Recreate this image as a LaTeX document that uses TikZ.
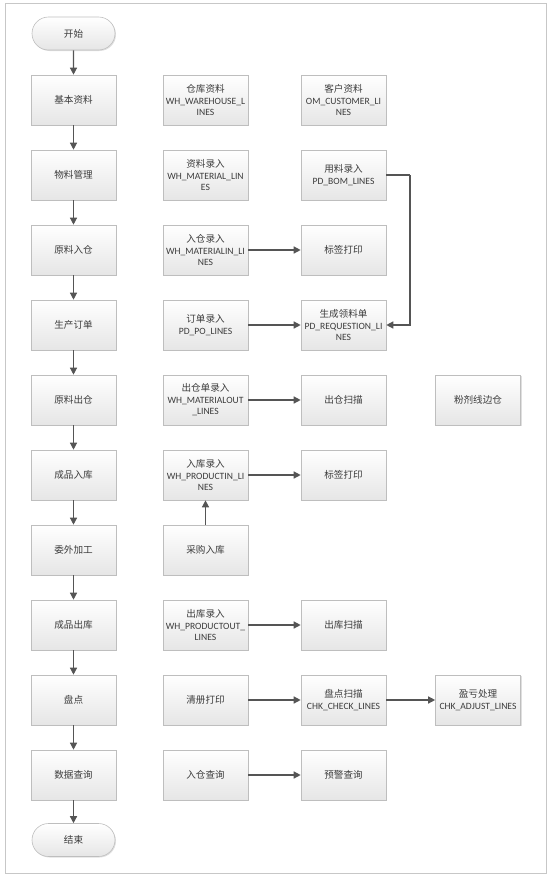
\documentclass[tikz,border=0pt]{standalone}
\usepackage{fontspec}
\setmainfont{Carlito}
\newfontfamily\zhfont{Noto Sans CJK SC}
\newcommand\zh[1]{{\zhfont #1}}
\usetikzlibrary{arrows.meta,shadows,shapes.misc}
\definecolor{boxline}{RGB}{190,190,190}
\definecolor{arrowc}{RGB}{85,85,85}
\definecolor{txt}{RGB}{60,60,60}
\tikzset{
  stepbox/.style={rectangle, draw=boxline, line width=0.6pt, top color=white, bottom color=black!10,
    minimum width=85pt, minimum height=50pt, inner sep=1pt, align=center, text=txt,
    font=\fontsize{9.6}{11.5}\selectfont,
    drop shadow={opacity=0.25, shadow xshift=1pt, shadow yshift=-1pt}},
  termbox/.style={rounded rectangle, draw=boxline, line width=0.6pt, top color=white, bottom color=black!10,
    minimum width=85pt, minimum height=33pt, inner sep=1pt, align=center, text=txt,
    font=\fontsize{9.6}{11.5}\selectfont,
    drop shadow={opacity=0.25, shadow xshift=1pt, shadow yshift=-1pt}},
  arr/.style={draw=arrowc, line width=1.3pt, -{Triangle[length=7pt,width=7pt]}, color=arrowc},
  ln/.style={draw=arrowc, line width=1.3pt}
}
\begin{document}
\begin{tikzpicture}[x=1pt,y=-1pt]
\useasboundingbox (0,0) rectangle (554,878);
\draw[black!22, line width=0.8pt] (5,3) rectangle (546,873);
% left column
\node[termbox] (start) at (73.5,33.5) {\zh{开始}};
\node[stepbox] (a1) at (73.5,100) {\zh{基本资料}};
\node[stepbox] (a2) at (73.5,175) {\zh{物料管理}};
\node[stepbox] (a3) at (73.5,250) {\zh{原料入仓}};
\node[stepbox] (a4) at (73.5,325) {\zh{生产订单}};
\node[stepbox] (a5) at (73.5,400) {\zh{原料出仓}};
\node[stepbox] (a6) at (73.5,475) {\zh{成品入库}};
\node[stepbox] (a7) at (73.5,550) {\zh{委外加工}};
\node[stepbox] (a8) at (73.5,625) {\zh{成品出库}};
\node[stepbox] (a9) at (73.5,700) {\zh{盘点}};
\node[stepbox] (a10) at (73.5,775) {\zh{数据查询}};
\node[termbox] (end) at (73.5,840) {\zh{结束}};
% column 2
\node[stepbox] (b1) at (205.5,100) {\zh{仓库资料}\\WH\_WAREHOUSE\_L\\INES};
\node[stepbox] (b2) at (205.5,175) {\zh{资料录入}\\WH\_MATERIAL\_LIN\\ES};
\node[stepbox] (b3) at (205.5,250) {\zh{入仓录入}\\WH\_MATERIALIN\_LI\\NES};
\node[stepbox] (b4) at (205.5,325) {\zh{订单录入}\\PD\_PO\_LINES};
\node[stepbox] (b5) at (205.5,400) {\zh{出仓单录入}\\WH\_MATERIALOUT\\\_LINES};
\node[stepbox] (b6) at (205.5,475) {\zh{入库录入}\\WH\_PRODUCTIN\_LI\\NES};
\node[stepbox] (b7) at (205.5,550) {\zh{采购入库}};
\node[stepbox] (b8) at (205.5,625) {\zh{出库录入}\\WH\_PRODUCTOUT\_\\LINES};
\node[stepbox] (b9) at (205.5,700) {\zh{清册打印}};
\node[stepbox] (b10) at (205.5,775) {\zh{入仓查询}};
% column 3
\node[stepbox] (c1) at (343.5,100) {\zh{客户资料}\\OM\_CUSTOMER\_LI\\NES};
\node[stepbox] (c2) at (343.5,175) {\zh{用料录入}\\PD\_BOM\_LINES};
\node[stepbox] (c3) at (343.5,250) {\zh{标签打印}};
\node[stepbox] (c4) at (343.5,325) {\zh{生成领料单}\\PD\_REQUESTION\_LI\\NES};
\node[stepbox] (c5) at (343.5,400) {\zh{出仓扫描}};
\node[stepbox] (c6) at (343.5,475) {\zh{标签打印}};
\node[stepbox] (c8) at (343.5,625) {\zh{出库扫描}};
\node[stepbox] (c9) at (343.5,700) {\zh{盘点扫描}\\CHK\_CHECK\_LINES};
\node[stepbox] (c10) at (343.5,775) {\zh{预警查询}};
% column 4
\node[stepbox] (d5) at (478,400) {\zh{粉剂线边仓}};
\node[stepbox] (d9) at (478,700) {\zh{盈亏处理}\\CHK\_ADJUST\_LINES};
% vertical arrows
\draw[arr] (start) -- (a1);
\draw[arr] (a1) -- (a2);
\draw[arr] (a2) -- (a3);
\draw[arr] (a3) -- (a4);
\draw[arr] (a4) -- (a5);
\draw[arr] (a5) -- (a6);
\draw[arr] (a6) -- (a7);
\draw[arr] (a7) -- (a8);
\draw[arr] (a8) -- (a9);
\draw[arr] (a9) -- (a10);
\draw[arr] (a10) -- (end);
% horizontal arrows
\draw[arr] (b3) -- (c3);
\draw[arr] (b4) -- (c4);
\draw[arr] (b5) -- (c5);
\draw[arr] (b6) -- (c6);
\draw[arr] (b7) -- (b6);
\draw[arr] (b8) -- (c8);
\draw[arr] (b9) -- (c9);
\draw[arr] (c9) -- (d9);
\draw[arr] (b10) -- (c10);
\coordinate (bend) at (410,175);
\draw[ln] (c2.east) -- (bend);
\draw[arr] (bend) |- (c4.east);
\end{tikzpicture}
\end{document}
